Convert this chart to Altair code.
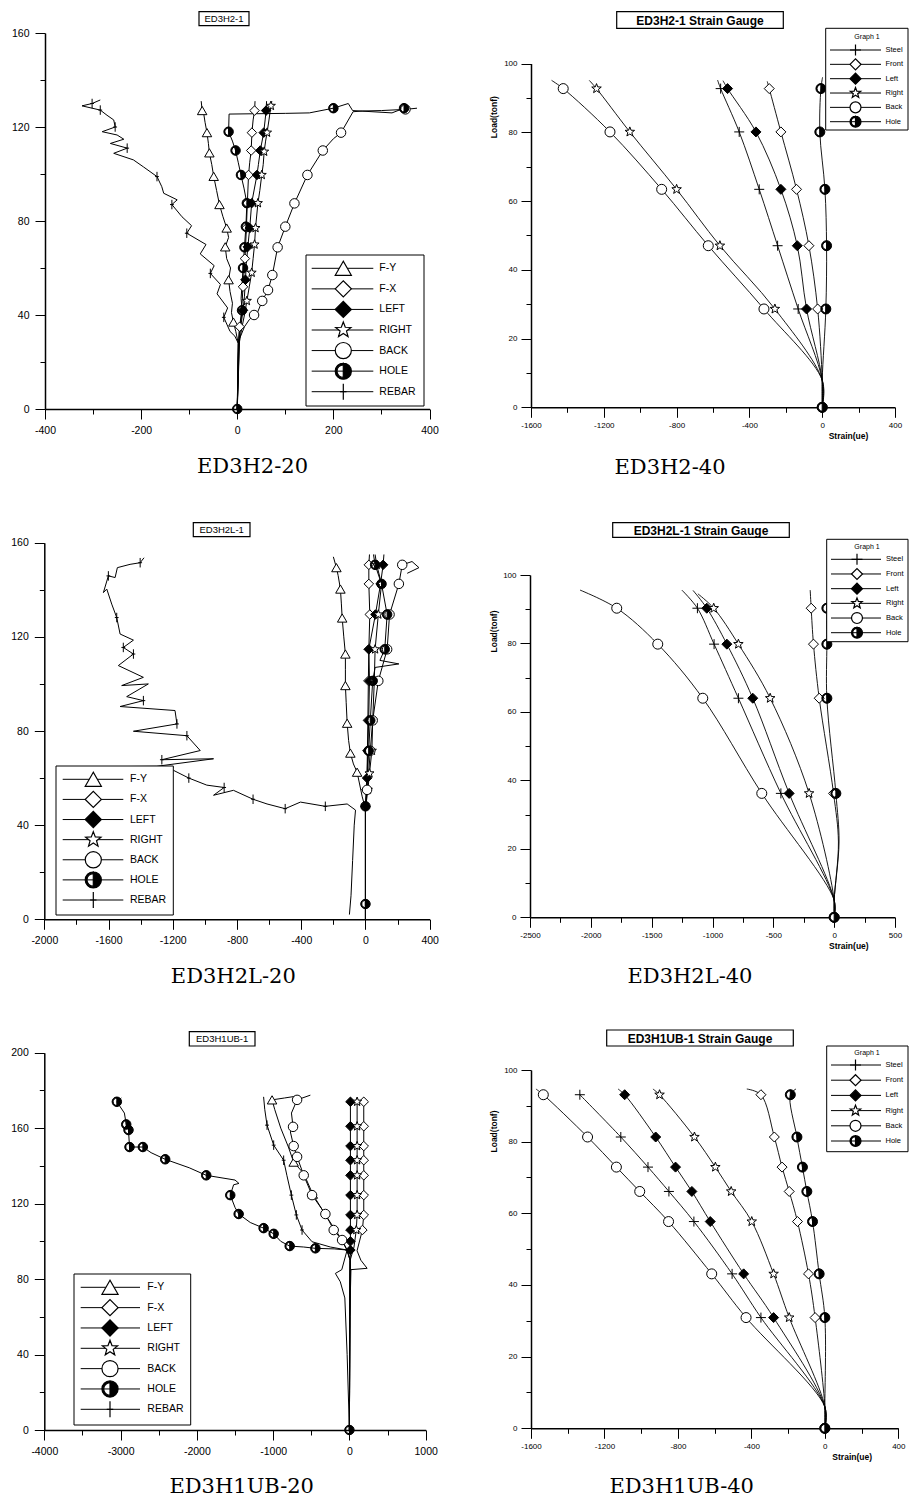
import math
import altair as alt
import pandas as pd

SANS = "Liberation Sans"
SERIF = "DejaVu Serif"

NAMES20 = ["F-Y", "F-X", "LEFT", "RIGHT", "BACK", "HOLE", "REBAR"]
NAMES40 = ["Steel", "Front", "Left", "Right", "Back", "Hole"]

# ================= Panel 1 : ED3H2-20 =================
P1_FY_X = [0, 2, -3, -8, -12, -10, -15, -18, -14, -22, -25, -18, -22, -30, -37, -43, -49, -53, -58, -60, -63, -67, -70, -73, -75]
P1_FY_Y = [0, 28, 33, 37, 41, 45, 50, 55, 60, 64, 69, 73, 77, 82, 87, 93, 99, 104, 109, 113, 117.6, 122, 126, 127, 131]
P1_FY_MX = [-8, -18, -25, -22, -37, -49, -58, -63, -73]
P1_FY_MY = [37, 55, 69, 77, 87, 99, 109, 117.6, 127]
P1_FX_X = [0, 3, 5, 8, 10, 12, 14, 16, 17, 19, 21, 23.5, 26, 29, 30.5, 33, 36, 37]
P1_FX_Y = [0, 28, 35, 40, 45, 52, 58, 64, 68, 77, 87.6, 99.6, 105, 110, 117.6, 123, 127, 131]
P1_FX_MX = [5, 12, 16, 19, 21, 23.5, 29, 30.5, 36]
P1_FX_MY = [35, 52, 64, 77, 87.6, 99.6, 110, 117.6, 127]
P1_LE_X = [0, 3, 8, 12, 15, 17, 19, 22, 26, 30, 41, 44, 48, 55, 58, 60, 61]
P1_LE_Y = [0, 28, 36, 42, 48, 55, 62, 69, 77, 87.6, 99.6, 104, 110, 117.6, 123, 127, 131]
P1_LE_MX = [12, 17, 22, 26, 30, 41, 48, 55, 60]
P1_LE_MY = [42, 55, 69, 77, 87.6, 99.6, 110, 117.6, 127]
P1_RI_X = [0, 4, 10, 15, 20, 25, 30, 33, 36, 38, 43, 47, 51, 54, 56, 59, 62, 66, 70, 72]
P1_RI_Y = [0, 28, 35, 40, 46, 52, 58, 64, 70, 77, 87.6, 93, 99.6, 104, 109.5, 114, 117.6, 123, 129, 131]
P1_RI_MX = [20, 30, 36, 38, 43, 51, 56, 62, 70]
P1_RI_MY = [46, 58, 70, 77, 87.6, 99.6, 109.5, 117.6, 129]
P1_BA_X = [0, 5, 15, 25, 35, 42, 52, 64, 73, 84, 100, 119, 146, 178, 200, 216, 241, 260, 300, 350, 374]
P1_BA_Y = [0, 30, 35, 38, 40, 41, 46, 50.6, 57, 68.8, 77.6, 87.5, 99.6, 110, 115, 117.6, 126.5, 126.8, 127, 127.5, 128]
P1_BA_MX = [35, 52, 64, 73, 84, 100, 119, 146, 178, 216, 350]
P1_BA_MY = [40, 46, 50.6, 57, 68.8, 77.6, 87.5, 99.6, 110, 117.6, 127.5]
P1_HO_X = [0, 3, 5, 8, 10, 8, 10, 12, 15, 18, 20, 14, 7.7, 2, -3.5, -10, -18, -17, 100, 150, 200, 231, 240, 322, 347]
P1_HO_Y = [0, 30, 35, 38, 42, 47, 53, 60, 68.8, 77.6, 87.6, 94, 99.6, 105, 110, 114, 118, 125.5, 125.8, 126, 128, 130, 127, 126, 128]
P1_HO_MX = [0, 10, 12, 15, 18, 20, 7.7, -3.5, -18, 200, 347]
P1_HO_MY = [0, 42, 60, 68.8, 77.6, 87.6, 99.6, 110, 118, 128, 128]
P1_RE_X = [0, 2, -5, -15, -28, -20, -42, -35, -56, -48, -77, -65, -105, -95, -115, -136, -125, -153, -157, -167, -195, -216, -257, -229, -264, -236, -250, -281, -254, -257, -271, -285, -323, -302, -285]
P1_RE_Y = [0, 28, 31, 33, 39, 43, 49, 53, 57.7, 61, 66, 70, 74.8, 78, 81.8, 87, 89, 91.8, 94.6, 98.9, 103, 106, 108.8, 111, 113, 114.8, 116.6, 118, 120, 123, 125, 127.2, 129, 130, 131.5]
P1_RE_MX = [-28, -56, -105, -136, -167, -229, -254, -285, -302]
P1_RE_MY = [39, 57.7, 74.8, 87, 98.9, 111, 120, 127.2, 130]
P1_XTICKS = [-400, -300, -200, -100, 0, 100, 200, 300, 400]
P1_XLABELS = [-400, -200, 0, 200, 400]
P1_YTICKS = [0, 20, 40, 60, 80, 100, 120, 140, 160]
P1_YLABELS = [0, 40, 80, 120, 160]

# ================= Panel 2 : ED3H2-40 =================
P2_LOADS = [0, 28.6, 47.0, 63.4, 80.1, 92.7]
P2_STEEL_M = [0, -132, -245, -346, -456, -558]
P2_FRONT_M = [0, -25, -73, -141, -227, -291]
P2_LEFT_M = [0, -86, -137, -227, -364, -520]
P2_RIGHT_M = [0, -260, -562, -800, -1057, -1240]
P2_BACK_M = [0, -320, -626, -882, -1166, -1423]
P2_HOLE_M = [0, 20, 24, 15, -13, -7]
P2_STEEL_LX = [0, 0, -132, -245, -346, -456, -558, -575]
P2_STEEL_LY = [0, 7.9, 28.6, 47.0, 63.4, 80.1, 92.7, 95.2]
P2_FRONT_LX = [0, 0, -25, -73, -141, -227, -291, -302]
P2_FRONT_LY = [0, 7.9, 28.6, 47.0, 63.4, 80.1, 92.7, 94.8]
P2_LEFT_LX = [0, 0, -86, -137, -227, -364, -520, -545]
P2_LEFT_LY = [0, 7.9, 28.6, 47.0, 63.4, 80.1, 92.7, 95.0]
P2_RIGHT_LX = [0, 0, -260, -562, -800, -1057, -1240, -1280]
P2_RIGHT_LY = [0, 7.9, 28.6, 47.0, 63.4, 80.1, 92.7, 95.1]
P2_BACK_LX = [0, 0, -320, -626, -882, -1166, -1423, -1487]
P2_BACK_LY = [0, 7.9, 28.6, 47.0, 63.4, 80.1, 92.7, 95.1]
P2_HOLE_LX = [0, 0, 20, 24, 15, -13, -7, 2]
P2_HOLE_LY = [0, 7.9, 28.6, 47.0, 63.4, 80.1, 92.7, 96]
P2_XTICKS = [-1600, -1400, -1200, -1000, -800, -600, -400, -200, 0, 200, 400]
P2_XLABELS = [-1600, -1200, -800, -400, 0, 400]
P2_YTICKS = [0, 10, 20, 30, 40, 50, 60, 70, 80, 90, 100]
P2_YLABELS = [0, 20, 40, 60, 80, 100]

# ================= Panel 3 : ED3H2L-20 =================
P3_FY_X = [0, 0, -20, -52, -75, -94, -105, -114, -120, -125, -125, -125, -135, -145, -150, -156, -170, -181, -200]
P3_FY_Y = [0, 47, 52, 62.5, 66, 70.6, 76, 83.3, 92, 99.3, 106, 112.7, 120, 128, 134, 140.3, 146, 149.4, 154]
P3_FY_MX = [-52, -94, -114, -125, -125, -145, -156, -181]
P3_FY_MY = [62.5, 70.6, 83.3, 99.3, 112.7, 128, 140.3, 149.4]
P3_FX_X = [0, 0, 5, 10, 12, 15, 18, 21, 27, 21, 21, 25]
P3_FX_Y = [0, 47, 55, 62, 71.6, 84.5, 101.3, 114.7, 129.5, 142.5, 150.6, 155]
P3_FX_MX = [5, 12, 15, 18, 21, 27, 21, 21]
P3_FX_MY = [55, 71.6, 84.5, 101.3, 114.7, 129.5, 142.5, 150.6]
P3_LE_X = [0, 0, 5, 10, 15, 20, 25, 21, 62, 94, 110, 115]
P3_LE_Y = [0, 47, 53, 60, 71.6, 84.5, 101.3, 114.7, 129.5, 142.5, 150.6, 155]
P3_LE_MX = [0, 10, 15, 20, 25, 21, 62, 94, 110]
P3_LE_MY = [48, 60, 71.6, 84.5, 101.3, 114.7, 129.5, 142.5, 150.6]
P3_RI_X = [0, 0, 15, 25, 40, 45, 55, 60, 80, 100, 70, 60]
P3_RI_Y = [0, 47, 55, 62, 71.6, 84.5, 101.3, 114.7, 129.5, 142.5, 150.6, 155]
P3_RI_MX = [15, 25, 40, 45, 55, 60, 80, 100, 70]
P3_RI_MY = [55, 62, 71.6, 84.5, 101.3, 114.7, 129.5, 142.5, 150.6]
P3_BA_X = [0, 0, 10, 20, 30, 45, 80, 135, 150, 208, 229, 290, 333, 260]
P3_BA_Y = [0, 47, 55, 62, 71.6, 84.5, 101.3, 114.7, 129.5, 142.5, 150.6, 152, 149.4, 147]
P3_BA_MX = [10, 30, 45, 80, 135, 150, 208, 229]
P3_BA_MY = [55, 71.6, 84.5, 101.3, 114.7, 129.5, 142.5, 150.6]
P3_HO_X = [0, 0, 5, 10, 20, 30, 45, 60, 208, 90, 120, 135, 100, 60, 50]
P3_HO_Y = [0, 47, 52, 58, 71.6, 84.5, 101.3, 107, 108.5, 110, 114.7, 129.5, 142.5, 150.6, 155]
P3_HO_MX = [0, 0, 20, 30, 45, 120, 135, 100, 60]
P3_HO_MY = [6.5, 48, 71.6, 84.5, 101.3, 114.7, 129.5, 142.5, 150.6]
P3_RE_X = [-100, -90, -80, -70, -62, -114, -250, -405, -500, -613, -700, -822, -946, -880, -988, -1100, -1196, -1279, -1196, -1923, -1300, -946, -1268, -1029, -1112, -1445, -1174, -1186, -1528, -1383, -1487, -1352, -1518, -1383, -1539, -1445, -1508, -1445, -1528, -1549, -1580, -1611, -1632, -1601, -1559, -1545, -1466, -1403, -1379]
P3_RE_Y = [2, 10, 25, 40, 46.4, 49, 48, 49.8, 47, 49, 51, 54.8, 52.7, 56, 57, 60, 63.3, 63.3, 64.5, 64.7, 65, 68.2, 67.8, 71.7, 78, 79.9, 83, 88.7, 90.4, 92.9, 94.6, 100, 99.3, 102.8, 107.8, 112.7, 115.5, 118.6, 121.2, 128.2, 133.9, 140.3, 138.8, 145.9, 145.2, 149.4, 150.8, 151.5, 153.6]
P3_RE_MX = [-250, -500, -700, -880, -1100, -1268, -1112, -1174, -1383, -1445, -1508, -1549, -1601, -1403]
P3_RE_MY = [48, 47, 51, 56, 60, 67.8, 78, 83, 92.9, 112.7, 115.5, 128.2, 145.9, 151.5]
P3_XTICKS = [-2000, -1800, -1600, -1400, -1200, -1000, -800, -600, -400, -200, 0, 200, 400]
P3_XLABELS = [-2000, -1600, -1200, -800, -400, 0, 400]
P3_YTICKS = [0, 20, 40, 60, 80, 100, 120, 140, 160]
P3_YLABELS = [0, 40, 80, 120, 160]

# ================= Panel 4 : ED3H2L-40 =================
P4_LOADS = [0, 36.2, 64.0, 79.8, 90.3]
P4_STEEL_M = [0, -438, -787, -987, -1124]
P4_FRONT_M = [0, -5, -123, -170, -189]
P4_LEFT_M = [0, -370, -669, -882, -1047]
P4_RIGHT_M = [0, -206, -526, -787, -990]
P4_BACK_M = [0, -595, -1080, -1450, -1787]
P4_HOLE_M = [0, 14, -60, -60, -60]
P4_STEEL_LX = [0, 0, -438, -787, -987, -1124, -1252]
P4_STEEL_LY = [0, 5, 36.2, 64.0, 79.8, 90.3, 95.6]
P4_FRONT_LX = [0, 0, 35, -5, -123, -170, -189, -197]
P4_FRONT_LY = [0, 5, 22, 36.2, 64.0, 79.8, 90.3, 95.6]
P4_LEFT_LX = [0, 0, -370, -669, -882, -1047, -1160]
P4_LEFT_LY = [0, 5, 36.2, 64.0, 79.8, 90.3, 95.5]
P4_RIGHT_LX = [0, 0, -206, -526, -787, -990, -1120]
P4_RIGHT_LY = [0, 5, 36.2, 64.0, 79.8, 90.3, 94.5]
P4_BACK_LX = [0, 0, -595, -1080, -1450, -1787, -2089]
P4_BACK_LY = [0, 5, 36.2, 64.0, 79.8, 90.3, 95.6]
P4_HOLE_LX = [0, 0, 40, 14, -60, -60, -60, -47]
P4_HOLE_LY = [0, 5, 22, 36.2, 64.0, 79.8, 90.3, 95.4]
P4_XTICKS = [-2500, -2250, -2000, -1750, -1500, -1250, -1000, -750, -500, -250, 0, 250, 500]
P4_XLABELS = [-2500, -2000, -1500, -1000, -500, 0, 500]
P4_YTICKS = [0, 10, 20, 30, 40, 50, 60, 70, 80, 90, 100]
P4_YLABELS = [0, 20, 40, 60, 80, 100]

# ================= Panel 5 : ED3H1UB-20 =================
P5_FY_X = [0, 5, 10, -40, -150, -300, -480, -600, -731, -800, -900, -980, -1014, -850, -690]
P5_FY_Y = [0, 60, 90, 96, 104, 113, 125, 136, 142, 150, 160, 170, 175, 176, 177]
P5_FY_MX = [-480, -731, -1014]
P5_FY_MY = [125, 142, 175]
P5_FX_X = [0, 5, 20, 232, 150, 100, 170, 188, 188, 188, 188, 188, 188, 188]
P5_FX_Y = [0, 60, 85, 85.7, 90, 95, 106, 114, 124.5, 135, 143, 150.5, 161, 176]
P5_FX_MX = [170, 188, 188, 188, 188, 188, 188, 188]
P5_FX_MY = [106, 114, 124.5, 135, 143, 150.5, 161, 174]
P5_LE_X = [0, 5, 10, 13, 13, 13, 13, 13, 13, 13, 13, 13]
P5_LE_Y = [0, 60, 90, 95.4, 106, 114, 124.5, 135, 143, 150.5, 161, 176]
P5_LE_MX = [13, 13, 13, 13, 13, 13, 13, 13, 13, 13]
P5_LE_MY = [95.4, 100, 106, 114, 124.5, 135, 143, 150.5, 161, 174]
P5_RI_X = [0, 5, 10, 60, 90, 101, 101, 101, 101, 101, 101, 101]
P5_RI_Y = [0, 60, 90, 97, 106, 114, 124.5, 135, 143, 150.5, 161, 176]
P5_RI_MX = [90, 101, 101, 101, 101, 101, 101, 101]
P5_RI_MY = [106, 114, 124.5, 135, 143, 150.5, 161, 174]
P5_BA_X = [0, 5, 10, -30, -96, -206, -315, -490, -599, -686, -731, -774, -739, -760, -686, -512]
P5_BA_Y = [0, 60, 90, 95.4, 100.7, 106, 114.5, 124.5, 135, 144.8, 150.5, 158, 160.7, 168, 175, 177.5]
P5_BA_MX = [-96, -206, -315, -490, -599, -686, -731, -739, -686]
P5_BA_MY = [100.7, 106, 114.5, 124.5, 135, 144.8, 150.5, 160.7, 175]
P5_HO_X = [0, 5, 10, -30, -200, -446, -600, -783, -900, -993, -1125, -1300, -1452, -1500, -1562, -1518, -1448, -1500, -1877, -2100, -2415, -2600, -2708, -2883, -2896, -2926, -2950, -3049, -2990]
P5_HO_Y = [0, 60, 90, 95.4, 96, 96.3, 97, 97.5, 100, 104, 107, 110, 114.5, 118, 124.5, 130, 130.7, 132.5, 135, 139, 143.5, 147, 150, 150, 159, 162, 168, 174, 176]
P5_HO_MX = [0, -446, -783, -993, -1125, -1452, -1562, -1877, -2415, -2708, -2883, -2896, -2926, -3049]
P5_HO_MY = [0, 96.3, 97.5, 104, 107, 114.5, 124.5, 135, 143.5, 150, 150, 159, 162, 174]
P5_RE_X = [0, -30, -60, -120, -184, -100, -30, -250, -490, -621, -696, -761, -820, -862, -993, -1080, -1110, -1125]
P5_RE_Y = [0, 40, 70, 78.6, 83, 85, 95.4, 97, 99.8, 106, 114, 124.5, 135, 143, 151, 161.6, 170, 176.6]
P5_RE_MX = [-621, -696, -761, -862, -993, -1080]
P5_RE_MY = [106, 114, 124.5, 143, 151, 161.6]
P5_XTICKS = [-4000, -3500, -3000, -2500, -2000, -1500, -1000, -500, 0, 500, 1000]
P5_XLABELS = [-4000, -3000, -2000, -1000, 0, 1000]
P5_YTICKS = [0, 20, 40, 60, 80, 100, 120, 140, 160, 180, 200]
P5_YLABELS = [0, 40, 80, 120, 160, 200]

# ================= Panel 6 : ED3H1UB-40 =================
P6_LOADS = [0, 30.9, 43.1, 57.7, 66.1, 72.9, 81.3, 93.1]
P6_STEEL_M = [0, -348, -505, -713, -849, -963, -1111, -1334]
P6_FRONT_M = [0, -53, -89, -149, -194, -233, -275, -348]
P6_LEFT_M = [0, -279, -442, -624, -724, -813, -921, -1090]
P6_RIGHT_M = [0, -194, -279, -398, -510, -596, -710, -900]
P6_BACK_M = [0, -429, -616, -851, -1008, -1135, -1292, -1533]
P6_HOLE_M = [0, 0, -31, -67, -98, -122, -152, -188]
P6_STEEL_LX = [0, 0, -348, -505, -713, -849, -963, -1111, -1334]
P6_STEEL_LY = [0, 6, 30.9, 43.1, 57.7, 66.1, 72.9, 81.3, 93.1]
P6_FRONT_LX = [0, 0, -53, -89, -149, -194, -233, -275, -348, -425]
P6_FRONT_LY = [0, 6, 30.9, 43.1, 57.7, 66.1, 72.9, 81.3, 93.1, 94.7]
P6_LEFT_LX = [0, 0, -279, -442, -624, -724, -813, -921, -1090, -1126]
P6_LEFT_LY = [0, 6, 30.9, 43.1, 57.7, 66.1, 72.9, 81.3, 93.1, 94.7]
P6_RIGHT_LX = [0, 0, -194, -279, -398, -510, -596, -710, -900, -936]
P6_RIGHT_LY = [0, 6, 30.9, 43.1, 57.7, 66.1, 72.9, 81.3, 93.1, 94.7]
P6_BACK_LX = [0, 0, -429, -616, -851, -1008, -1135, -1292, -1533, -1573]
P6_BACK_LY = [0, 6, 30.9, 43.1, 57.7, 66.1, 72.9, 81.3, 93.1, 94.7]
P6_HOLE_LX = [0, 0, 0, -31, -67, -98, -122, -152, -188, -157]
P6_HOLE_LY = [0, 6, 30.9, 43.1, 57.7, 66.1, 72.9, 81.3, 93.1, 94.7]
P6_XTICKS = [-1600, -1400, -1200, -1000, -800, -600, -400, -200, 0, 200, 400]
P6_XLABELS = [-1600, -1200, -800, -400, 0, 400]
P6_YTICKS = [0, 10, 20, 30, 40, 50, 60, 70, 80, 90, 100]
P6_YLABELS = [0, 20, 40, 60, 80, 100]


# ---------------- symbols ----------------
def star_path(ro=1.0, ri=0.42):
    pts = []
    for k in range(10):
        ang = -math.pi / 2 + k * math.pi / 5
        r = ro if k % 2 == 0 else ri
        pts.append(f"{r * math.cos(ang):.3f},{r * math.sin(ang):.3f}")
    return "M" + "L".join(pts) + "Z"


STAR = star_path()
HALF = "M0,-1A1,1,0,0,1,0,1Z M0,-1A1,1,0,0,0,0,1L0,0.78A0.78,0.78,0,0,1,0,-0.78Z"
PLUS = "M-1,0L1,0M0,-1L0,1"
TICKSYM = "M0,-1L0,1M-0.4,0L0.4,0"
SHAPES20 = ["triangle-up", "diamond", "diamond", STAR, "circle", HALF, TICKSYM]
FILLS20 = ["white", "white", "black", "white", "white", "black", "white"]
SHAPES40 = [PLUS, "diamond", "diamond", STAR, "circle", HALF]
FILLS40 = ["white", "white", "black", "white", "white", "black"]
ALL_NAMES = NAMES20 + NAMES40
ALL_SHAPES = SHAPES20 + SHAPES40
ALL_FILLS = FILLS20 + FILLS40


def make_df(names, xs_list, ys_list):
    rows = []
    for n, xs, ys in zip(names, xs_list, ys_list):
        for i, (x, y) in enumerate(zip(xs, ys)):
            rows.append({"s": n, "i": i, "x": x, "y": y})
    return pd.DataFrame(rows)


def js_list(vals):
    return "[" + ",".join(str(v) for v in vals) + "]"


def make_axis(ticks, labels, fsize, pad, major, minor, offset, title=None, tx=None, ty=None, tangle=0):
    lab = js_list(labels)
    kw = dict(values=ticks,
              labelExpr=f"indexof({lab}, datum.value) >= 0 ? '' + datum.value : ''",
              tickSize={"condition": {"test": f"indexof({lab}, datum.value) >= 0", "value": major}, "value": minor},
              grid=False, domainColor="black", domainWidth=1.5, tickColor="black", tickWidth=1,
              labelFont=SANS, labelFontSize=fsize, labelColor="black", labelPadding=pad,
              labelOverlap=False, labelFlush=False, labelBound=False, offset=offset)
    if title:
        kw.update(title=title, titleX=tx, titleY=ty, titleFont=SANS, titleFontSize=8.5,
                  titleFontWeight="bold", titleColor="black", titleAlign="center",
                  titleBaseline="middle", titleAngle=tangle)
    else:
        kw["title"] = None
    return alt.Axis(**kw)


def make_panel(c):
    pl, pt, pr, pb = c["plot"]
    X0, Y0, CW, CH = c["cell"]

    def px(v):
        return v - X0

    def py(v):
        return v - Y0

    one = pd.DataFrame({"k": [0]})
    names = c["names"]
    xs = alt.Scale(domain=c["xdom"], range=[px(pl), px(pr)], nice=False, zero=False)
    ys = alt.Scale(domain=c["ydom"], range=[py(pb), py(pt)], nice=False, zero=False)
    xt = c.get("xtitle")
    yt = c.get("ytitle")
    xaxis = make_axis(c["xticks"], c["xlabels"], c["lsize"], c["lpad"], c["major"], c["minor"],
                      offset=-(Y0 + CH - pb),
                      title=xt[0] if xt else None, tx=px(xt[1]) if xt else None,
                      ty=(xt[2] - pb) if xt else None)
    yaxis = make_axis(c["yticks"], c["ylabels"], c["lsize"], c["lpad"], c["major"], c["minor"],
                      offset=-(pl - X0),
                      title=yt[0] if yt else None, tx=(yt[1] - pl) if yt else None,
                      ty=py(yt[2]) if yt else None, tangle=270)
    shape_enc = alt.Shape("s:N", scale=alt.Scale(domain=ALL_NAMES, range=ALL_SHAPES), legend=None)
    fill_enc = alt.Fill("s:N", scale=alt.Scale(domain=ALL_NAMES, range=ALL_FILLS), legend=None)

    layers = []
    layers.append(alt.Chart(c["line_df"]).mark_line(
        color="black", strokeWidth=c["lw"], interpolate=c["interp"]).encode(
        x=alt.X("x:Q", scale=xs, axis=xaxis),
        y=alt.Y("y:Q", scale=ys, axis=yaxis),
        detail="s:N", order="i:Q"))
    layers.append(alt.Chart(c["mark_df"]).mark_point(
        filled=True, stroke="black", strokeWidth=1, opacity=1, size=c["msize"]).encode(
        x=alt.X("x:Q", scale=xs, axis=xaxis),
        y=alt.Y("y:Q", scale=ys, axis=None),
        shape=shape_enc, fill=fill_enc))

    # legend
    lg = c["legend"]
    ldf = pd.DataFrame({"s": names})
    ly = alt.Y("s:N", scale=alt.Scale(type="point", domain=names,
                                      range=[py(lg["rows"][0]), py(lg["rows"][1])], padding=0), axis=None)
    bx0, by0, bx1, by1 = lg["box"]
    layers.append(alt.Chart(one).mark_rect(fill="white", stroke="black", strokeWidth=1).encode(
        x=alt.value(px(bx0)), x2=alt.value(px(bx1)), y=alt.value(py(by0)), y2=alt.value(py(by1))))
    layers.append(alt.Chart(ldf).mark_rule(color="black", strokeWidth=1).encode(
        x=alt.value(px(lg["rule"][0])), x2=alt.value(px(lg["rule"][1])), y=ly))
    layers.append(alt.Chart(ldf).mark_point(
        filled=True, stroke="black", strokeWidth=1.2, opacity=1, size=lg["size"]).encode(
        x=alt.value(px(lg["sym"])), y=ly, shape=shape_enc, fill=fill_enc))
    layers.append(alt.Chart(ldf).mark_text(
        align="left", baseline="middle", font=SANS, fontSize=lg["font"], color="black").encode(
        x=alt.value(px(lg["text"])), y=ly, text="s:N"))
    if lg.get("header"):
        htxt, hx, hy = lg["header"]
        layers.append(alt.Chart(one).mark_text(
            text=htxt, align="center", baseline="middle", font=SANS, fontSize=lg["font"] - 0.5,
            color="black").encode(x=alt.value(px(hx)), y=alt.value(py(hy))))

    # boxed title
    tt = c["title"]
    tx0, ty0, tx1, ty1 = tt["box"]
    layers.append(alt.Chart(one).mark_rect(fill="white", stroke="black", strokeWidth=1.2).encode(
        x=alt.value(px(tx0)), x2=alt.value(px(tx1)), y=alt.value(py(ty0)), y2=alt.value(py(ty1))))
    layers.append(alt.Chart(one).mark_text(
        text=tt["text"], align="center", baseline="middle", font=SANS, fontSize=tt["size"],
        fontWeight=tt["weight"], color="black").encode(
        x=alt.value(px((tx0 + tx1) / 2)), y=alt.value(py((ty0 + ty1) / 2 + 0.5))))

    # caption
    ctext, cx, cy = c["caption"]
    layers.append(alt.Chart(one).mark_text(
        text=ctext, align="center", baseline="middle", font=SERIF, fontSize=21, color="black").encode(
        x=alt.value(px(cx)), y=alt.value(py(cy))))

    return alt.layer(*layers).resolve_scale(y="independent").properties(width=CW, height=CH)


def legend20(box, rows, rule, sym, text):
    return dict(box=box, rows=rows, rule=rule, sym=sym, text=text, size=260, font=10.5)


def legend40(box, rows, rule, sym, text, header):
    return dict(box=box, rows=rows, rule=rule, sym=sym, text=text, size=120, font=7.5,
                header=("Graph 1", header[0], header[1]))


COL1 = (8, 450)
COL2 = (458, 451)
ROW1 = (8, 510)
ROW2 = (518, 510)
ROW3 = (1028, 472)

p1 = make_panel(dict(
    plot=(45, 33, 429.5, 409), cell=(COL1[0], ROW1[0], COL1[1], ROW1[1]), xdom=[-400, 400], ydom=[0, 160],
    xticks=P1_XTICKS, xlabels=P1_XLABELS, yticks=P1_YTICKS, ylabels=P1_YLABELS,
    lsize=10.5, lpad=6, major=10, minor=5,
    names=NAMES20, interp="linear", lw=1, msize=90,
    line_df=make_df(NAMES20, [P1_FY_X, P1_FX_X, P1_LE_X, P1_RI_X, P1_BA_X, P1_HO_X, P1_RE_X],
                    [P1_FY_Y, P1_FX_Y, P1_LE_Y, P1_RI_Y, P1_BA_Y, P1_HO_Y, P1_RE_Y]),
    mark_df=make_df(NAMES20, [P1_FY_MX, P1_FX_MX, P1_LE_MX, P1_RI_MX, P1_BA_MX, P1_HO_MX, P1_RE_MX],
                    [P1_FY_MY, P1_FX_MY, P1_LE_MY, P1_RI_MY, P1_BA_MY, P1_HO_MY, P1_RE_MY]),
    legend=legend20((306, 255, 424, 406), (268.3, 391.7), (311.7, 373.3), 343.3, 379.3),
    title=dict(text="ED3H2-1", box=(199, 11.7, 249, 25.7), size=9.5, weight="normal"),
    caption=("ED3H2-20", 252.5, 467)))

p2 = make_panel(dict(
    plot=(531, 63.5, 895, 407.3), cell=(COL2[0], ROW1[0], COL2[1], ROW1[1]), xdom=[-1600, 400], ydom=[0, 100],
    xticks=P2_XTICKS, xlabels=P2_XLABELS, yticks=P2_YTICKS, ylabels=P2_YLABELS,
    lsize=8, lpad=4, major=10, minor=5,
    xtitle=("Strain(ue)", 848, 435), ytitle=("Load(tonf)", 493.3, 116.7),
    names=NAMES40, interp="catmull-rom", lw=0.9, msize=100,
    line_df=make_df(NAMES40, [P2_STEEL_LX, P2_FRONT_LX, P2_LEFT_LX, P2_RIGHT_LX, P2_BACK_LX, P2_HOLE_LX],
                    [P2_STEEL_LY, P2_FRONT_LY, P2_LEFT_LY, P2_RIGHT_LY, P2_BACK_LY, P2_HOLE_LY]),
    mark_df=make_df(NAMES40, [P2_STEEL_M, P2_FRONT_M, P2_LEFT_M, P2_RIGHT_M, P2_BACK_M, P2_HOLE_M],
                    [P2_LOADS] * 6),
    legend=legend40((825.7, 28.3, 908, 130), (50, 121.7), (830, 881), 855.5, 885.5, (867, 37)),
    title=dict(text="ED3H2-1 Strain Gauge", box=(616.7, 11.7, 783.3, 28.3), size=12, weight="bold"),
    caption=("ED3H2-40", 670, 467.5)))

p3 = make_panel(dict(
    plot=(44.3, 542.7, 429.7, 919.3), cell=(COL1[0], ROW2[0], COL1[1], ROW2[1]), xdom=[-2000, 400], ydom=[0, 160],
    xticks=P3_XTICKS, xlabels=P3_XLABELS, yticks=P3_YTICKS, ylabels=P3_YLABELS,
    lsize=10.5, lpad=6, major=10, minor=5,
    names=NAMES20, interp="linear", lw=1, msize=90,
    line_df=make_df(NAMES20, [P3_FY_X, P3_FX_X, P3_LE_X, P3_RI_X, P3_BA_X, P3_HO_X, P3_RE_X],
                    [P3_FY_Y, P3_FX_Y, P3_LE_Y, P3_RI_Y, P3_BA_Y, P3_HO_Y, P3_RE_Y]),
    mark_df=make_df(NAMES20, [P3_FY_MX, P3_FX_MX, P3_LE_MX, P3_RI_MX, P3_BA_MX, P3_HO_MX, P3_RE_MX],
                    [P3_FY_MY, P3_FX_MY, P3_LE_MY, P3_RI_MY, P3_BA_MY, P3_HO_MY, P3_RE_MY]),
    legend=legend20((56, 766, 173.3, 915), (779.3, 900), (62.7, 123.3), 93.3, 130),
    title=dict(text="ED3H2L-1", box=(193.3, 522.7, 250, 536.7), size=9.5, weight="normal"),
    caption=("ED3H2L-20", 233.3, 977)))

p4 = make_panel(dict(
    plot=(530, 575, 895, 917.3), cell=(COL2[0], ROW2[0], COL2[1], ROW2[1]), xdom=[-2500, 500], ydom=[0, 100],
    xticks=P4_XTICKS, xlabels=P4_XLABELS, yticks=P4_YTICKS, ylabels=P4_YLABELS,
    lsize=8, lpad=4, major=10, minor=5,
    xtitle=("Strain(ue)", 848.3, 945), ytitle=("Load(tonf)", 493.3, 631),
    names=NAMES40, interp="catmull-rom", lw=0.9, msize=100,
    line_df=make_df(NAMES40, [P4_STEEL_LX, P4_FRONT_LX, P4_LEFT_LX, P4_RIGHT_LX, P4_BACK_LX, P4_HOLE_LX],
                    [P4_STEEL_LY, P4_FRONT_LY, P4_LEFT_LY, P4_RIGHT_LY, P4_BACK_LY, P4_HOLE_LY]),
    mark_df=make_df(NAMES40, [P4_STEEL_M, P4_FRONT_M, P4_LEFT_M, P4_RIGHT_M, P4_BACK_M, P4_HOLE_M],
                    [P4_LOADS] * 6),
    legend=legend40((826.7, 539.3, 908, 641.7), (559.3, 632.7), (831, 881), 857, 886, (867, 547.3)),
    title=dict(text="ED3H2L-1 Strain Gauge", box=(612.7, 522.7, 789.3, 537.3), size=12, weight="bold"),
    caption=("ED3H2L-40", 690, 977)))

p5 = make_panel(dict(
    plot=(44.3, 1052.7, 425.7, 1430), cell=(COL1[0], ROW3[0], COL1[1], ROW3[1]), xdom=[-4000, 1000], ydom=[0, 200],
    xticks=P5_XTICKS, xlabels=P5_XLABELS, yticks=P5_YTICKS, ylabels=P5_YLABELS,
    lsize=10.5, lpad=6, major=10, minor=5,
    names=NAMES20, interp="linear", lw=1, msize=90,
    line_df=make_df(NAMES20, [P5_FY_X, P5_FX_X, P5_LE_X, P5_RI_X, P5_BA_X, P5_HO_X, P5_RE_X],
                    [P5_FY_Y, P5_FX_Y, P5_LE_Y, P5_RI_Y, P5_BA_Y, P5_HO_Y, P5_RE_Y]),
    mark_df=make_df(NAMES20, [P5_FY_MX, P5_FX_MX, P5_LE_MX, P5_RI_MX, P5_BA_MX, P5_HO_MX, P5_RE_MX],
                    [P5_FY_MY, P5_FX_MY, P5_LE_MY, P5_RI_MY, P5_BA_MY, P5_HO_MY, P5_RE_MY]),
    legend=legend20((74, 1274, 190.7, 1425), (1287.3, 1409.3), (80.7, 140), 110, 147.3),
    title=dict(text="ED3H1UB-1", box=(189.3, 1031.7, 255, 1046), size=9.5, weight="normal"),
    caption=("ED3H1UB-20", 241.7, 1487)))

p6 = make_panel(dict(
    plot=(531, 1070, 898.3, 1428.3), cell=(COL2[0], ROW3[0], COL2[1], ROW3[1]), xdom=[-1600, 400], ydom=[0, 100],
    xticks=P6_XTICKS, xlabels=P6_XLABELS, yticks=P6_YTICKS, ylabels=P6_YLABELS,
    lsize=8, lpad=4, major=10, minor=5,
    xtitle=("Strain(ue)", 851.7, 1456), ytitle=("Load(tonf)", 493.3, 1131),
    names=NAMES40, interp="catmull-rom", lw=0.9, msize=100,
    line_df=make_df(NAMES40, [P6_STEEL_LX, P6_FRONT_LX, P6_LEFT_LX, P6_RIGHT_LX, P6_BACK_LX, P6_HOLE_LX],
                    [P6_STEEL_LY, P6_FRONT_LY, P6_LEFT_LY, P6_RIGHT_LY, P6_BACK_LY, P6_HOLE_LY]),
    mark_df=make_df(NAMES40, [P6_STEEL_M, P6_FRONT_M, P6_LEFT_M, P6_RIGHT_M, P6_BACK_M, P6_HOLE_M],
                    [P6_LOADS] * 6),
    legend=legend40((826.7, 1046, 908, 1151.7), (1065, 1141), (831, 881), 855.5, 885.5, (867, 1053.3)),
    title=dict(text="ED3H1UB-1 Strain Gauge", box=(606.7, 1030, 793.3, 1046), size=12, weight="bold"),
    caption=("ED3H1UB-40", 681.7, 1487)))

chart = alt.vconcat(
    alt.hconcat(p1, p2, spacing=0),
    alt.hconcat(p3, p4, spacing=0),
    alt.hconcat(p5, p6, spacing=0),
    spacing=0,
).properties(padding=0).configure_view(stroke=None)

chart.save("out.html", embed_options={"renderer": "svg", "actions": False})
